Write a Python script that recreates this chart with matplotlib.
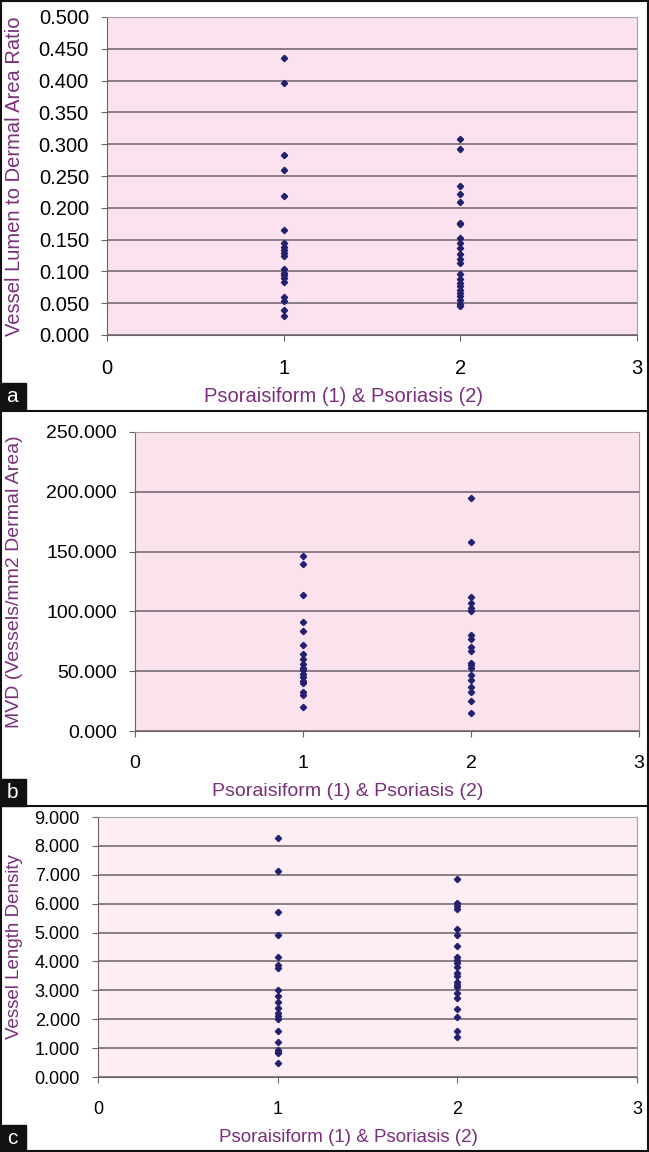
import matplotlib.pyplot as plt
from matplotlib.patches import Rectangle
from matplotlib.ticker import FormatStrFormatter

plt.rcParams['font.family'] = ['Liberation Sans', 'DejaVu Sans']

# panel a: vessel lumen to dermal area ratio
a_psf = [0.436, 0.396, 0.283, 0.259, 0.219, 0.165, 0.144, 0.139, 0.134, 0.129,
         0.125, 0.103, 0.098, 0.094, 0.089, 0.084, 0.059, 0.054, 0.040, 0.030]
a_pso = [0.308, 0.293, 0.235, 0.221, 0.209, 0.176, 0.174, 0.152, 0.145, 0.137,
         0.127, 0.120, 0.113, 0.096, 0.088, 0.082, 0.077, 0.071, 0.066, 0.062,
         0.055, 0.048, 0.045]

# panel b: MVD
b_psf = [146, 140, 114, 91, 84, 72, 64, 60, 56, 53, 51, 48, 45, 42, 40, 33, 30, 20]
b_pso = [195, 158, 112, 107, 103, 100, 80, 77, 70, 67, 57, 55, 53, 47, 43, 37,
         33, 25, 15]

# panel c: vessel length density
c_psf = [8.28, 7.14, 5.72, 4.92, 4.17, 3.86, 3.76, 3.0, 2.8, 2.6, 2.4, 2.2,
         2.1, 2.0, 1.6, 1.2, 0.93, 0.88, 0.83, 0.48]
c_pso = [6.85, 6.01, 5.93, 5.83, 5.12, 4.92, 4.52, 4.15, 4.05, 3.95, 3.82, 3.6,
         3.5, 3.3, 3.2, 3.1, 2.9, 2.72, 2.35, 2.08, 1.58, 1.38]

xlabel = 'Psoraisiform (1) & Psoriasis (2)'
purple = '#7a2e7c'
navy = '#232070'

W, H = 649, 1152
fig = plt.figure(figsize=(W / 100, H / 100), dpi=100)


def px_axes(left, right, top, bottom):
    return fig.add_axes([left / W, 1 - bottom / H, (right - left) / W, (bottom - top) / H])


panels = [
    # left, right, top, bottom, ymax, step, data, ylabel, bg, tick fs, label fs, xlabel x/y
    (107, 637, 17, 335, 0.5, 0.05, (a_psf, a_pso),
     'Vessel Lumen to Dermal Area Ratio', '#fbe2ee', 14.5, 14.5, 344, 397),
    (135, 639, 432, 731, 250, 50, (b_psf, b_pso),
     'MVD (Vessels/mm2 Dermal Area)', '#fbe3ee', 14, 14, 348, 792),
    (98, 637, 817, 1077, 9, 1, (c_psf, c_pso),
     'Vessel Length Density', '#fdeef4', 13, 13.5, 348, 1138),
]

for left, right, top, bottom, ymax, step, (g1, g2), ylab, bg, fs, lfs, xlx, xly in panels:
    ax = px_axes(left, right, top, bottom)
    ax.set_facecolor(bg)
    ax.plot([1] * len(g1), g1, 'D', color=navy, markersize=3.2, linestyle='none', zorder=3)
    ax.plot([2] * len(g2), g2, 'D', color=navy, markersize=3.2, linestyle='none', zorder=3)
    ax.set_xlim(0, 3)
    ax.set_ylim(0, ymax)
    n = int(round(ymax / step))
    ax.set_yticks([i * step for i in range(n + 1)])
    ax.set_xticks([0, 1, 2, 3])
    ax.yaxis.set_major_formatter(FormatStrFormatter('%.3f'))
    ax.grid(axis='y', color='#6e6068', linewidth=1.1)
    ax.set_axisbelow(True)
    for s in ['top', 'right']:
        ax.spines[s].set_color('#a8a0a4')
    for s in ['left', 'bottom']:
        ax.spines[s].set_color('#6e6068')
    ax.tick_params(axis='y', length=4, color='#6e6068', labelsize=fs, pad=9)
    ax.tick_params(axis='x', length=4, color='#6e6068', labelsize=fs, pad=13)
    fig.text(xlx / W, 1 - xly / H, xlabel, color=purple, fontsize=lfs,
             ha='center', va='center')
    fig.text(15 / W, 1 - (top + bottom) / 2 / H, ylab, rotation=90, color=purple,
             fontsize=lfs, ha='center', va='center')

# panel letters in black boxes
for y0, letter in [(383, 'a'), (779, 'b'), (1125, 'c')]:
    fig.patches.append(Rectangle((0, 1 - (y0 + 27) / H), 26 / W, 27 / H,
                                 transform=fig.transFigure, color='#111111'))
    fig.text(12 / W, 1 - (y0 + 14) / H, letter, color='white', fontsize=15,
             ha='center', va='center')

# frame lines
for y in [411, 806]:
    fig.lines.append(plt.Line2D([0, 1], [1 - y / H] * 2, transform=fig.transFigure,
                                color='#111111', linewidth=1.5))
fig.patches.append(Rectangle((0.001, 0.001), 0.998, 0.998, transform=fig.transFigure,
                             fill=False, edgecolor='#111111', linewidth=1.5))

fig.savefig('out.png', dpi=100)
